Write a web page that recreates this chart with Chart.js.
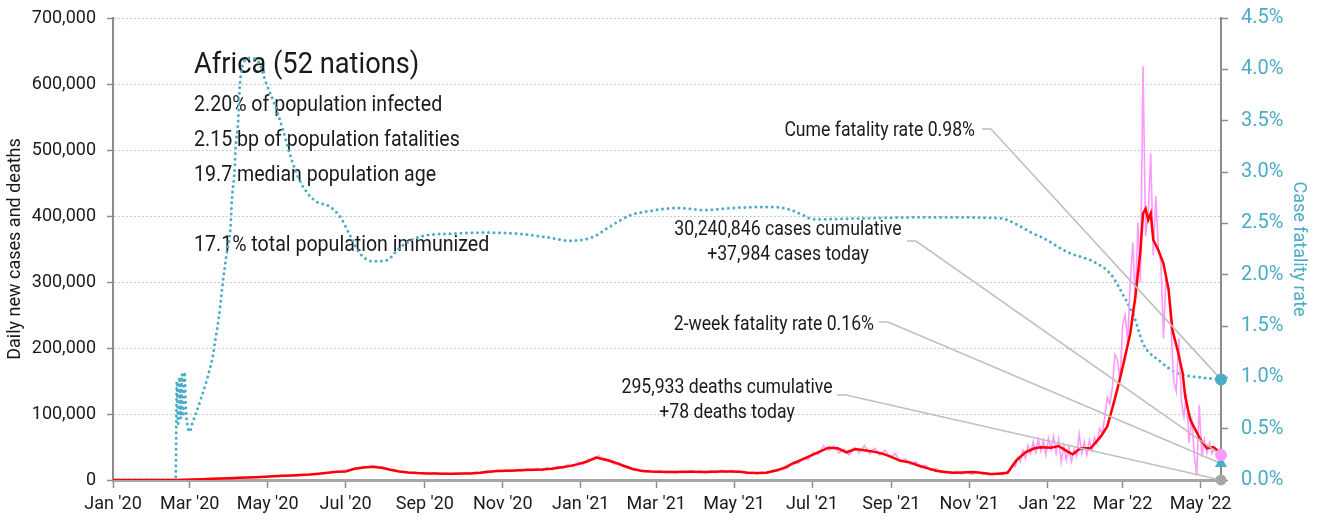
<!DOCTYPE html>
<html>
<head>
<meta charset="utf-8">
<script src="https://cdn.jsdelivr.net/npm/chart.js@4.4.1/dist/chart.umd.min.js"></script>
<style>
  html, body { margin: 0; padding: 0; background: #fff; }
  #wrap { width: 1320px; height: 520px; }
</style>
</head>
<body>
<div id="wrap"><canvas id="chart"></canvas></div>
<script>
'use strict';

// ── Data ─────────────────────────────────────────────────────────────
// x values are day numbers counted from 1 Jan 2020
const tickDays   = [0, 60, 121, 182, 244, 305, 366, 425, 486, 547, 609, 670, 731, 790, 851];
const tickLabels = ["Jan '20", "Mar '20", "May '20", "Jul '20", "Sep '20", "Nov '20",
                    "Jan '21", "Mar '21", "May '21", "Jul '21", "Sep '21", "Nov '21",
                    "Jan '22", "Mar '22", "May '22"];
const lastDay = 867;

// daily new cases, thousands — one value every 4 days from day 0 to day 700
const earlyStart = 0, earlyStep = 4;
const dailyCasesEarly = [
  0, 0, 0, 0, 0, 0, 0, 0, 0, 0,
  0, 0, 0, 0.4, 0.2, 0.9, 0.6, 1.4, 1.0, 2.0,
  1.6, 2.6, 2.0, 3.2, 2.6, 3.8, 3.0, 4.5, 3.6, 5.2,
  4.2, 6.0, 5.0, 7.0, 5.8, 7.8, 6.5, 8.5, 7.2, 9.2,
  8.4, 11.0, 10.0, 13.2, 11.5, 14.5, 14.0, 17.5, 17.0, 20.5,
  19.0, 21.5, 19.5, 19.5, 15.5, 16.0, 12.5, 13.0, 10.5, 11.5,
  9.8, 11.2, 9.2, 10.8, 8.8, 10.5, 8.6, 10.6, 8.9, 11.0,
  9.3, 12.0, 10.0, 13.8, 11.5, 14.8, 12.5, 15.5, 13.0, 16.0,
  13.5, 16.8, 14.0, 17.5, 14.5, 18.8, 15.5, 21.0, 17.5, 23.5,
  20.0, 27.0, 23.5, 32.0, 31.0, 37.0, 29.0, 31.5, 24.0, 25.5,
  19.0, 19.5, 14.5, 15.5, 12.0, 14.5, 11.5, 14.0, 11.0, 13.5,
  10.8, 14.0, 11.0, 14.5, 11.0, 13.8, 10.5, 14.2, 11.2, 15.0,
  11.5, 14.5, 11.0, 13.5, 9.5, 12.5, 9.0, 12.5, 10.0, 15.0,
  13.0, 19.5, 18.0, 27.0, 25.0, 33.0, 31.0, 42.0, 39.0, 52.0,
  45.0, 51.0, 41.0, 47.0, 38.0, 49.0, 41.0, 52.0, 40.0, 48.0,
  37.5, 45.0, 34.0, 40.0, 28.5, 32.0, 23.5, 27.5, 19.5, 22.5,
  14.5, 17.5, 11.0, 14.0, 9.5, 13.0, 9.0, 12.5, 8.5, 12.5,
  8.8, 11.0, 7.5, 11.5, 8.0, 13.0
];

// daily new cases, thousands — one value every 2 days from day 702 to day 866
const lateStart = 702, lateStep = 2;
const dailyCasesLate = [
  16, 24, 20, 34, 28, 45, 33, 52, 40, 58,
  42, 62, 44, 60, 38, 63, 46, 66, 40, 62,
  27, 52, 30, 50, 28, 46, 36, 70, 40, 58,
  38, 60, 45, 65, 55, 78, 70, 95, 125, 115,
  140, 190, 182, 150, 235, 250, 210, 300, 360, 268,
  390, 300, 627, 370, 400, 495, 340, 430, 350, 330,
  215, 308, 295, 225, 150, 134, 215, 120, 96, 130,
  56, 96, 41, 7, 114, 35, 61, 41, 56, 40,
  47, 42, 41
];

// 7-day average of new cases, thousands
const avgDays = [
  0, 49, 56, 63, 70, 77, 84, 91, 98, 105, 112, 119, 126, 133, 140, 147, 154, 161, 168, 175,
  182, 189, 196, 203, 210, 217, 224, 231, 238, 245, 252, 259, 266, 273, 280, 287, 294, 301, 308, 315,
  322, 329, 336, 343, 350, 357, 364, 371, 378, 385, 392, 399, 406, 413, 420, 427, 434, 441, 448, 455,
  462, 469, 476, 483, 490, 497, 504, 511, 518, 525, 532, 539, 546, 553, 560, 567, 574, 581, 588, 595,
  602, 609, 616, 623, 630, 637, 644, 651, 658, 665, 672, 679, 686, 693, 700, 707, 714, 721, 726, 734,
  740, 747, 751, 757, 765, 773, 778, 783, 787, 791, 796, 800, 804, 806, 808, 810, 811, 812, 814, 818,
  822, 826, 829, 833, 837, 839, 843, 847, 851, 856, 861, 864, 867
];
const avgCases = [
  0, 0, 0.3, 0.8, 1.2, 1.8, 2.3, 2.8, 3.3, 3.8, 4.2, 4.8, 5.5, 6.3, 7.0, 7.5, 8.2, 9.5, 11, 12.5,
  13, 17, 19, 20, 18.5, 15.5, 13, 11.5, 10.5, 10, 10, 9.5, 9.5, 9.8, 10, 11, 12.5, 13.5, 14, 14.5,
  15, 15.5, 16, 17, 19, 21, 24, 28, 34, 31, 27, 22, 17, 14, 13, 12.5, 12, 12, 12.5, 12.5,
  12, 12.5, 13, 13, 12.5, 11, 10.5, 11, 14, 18, 25, 31, 37, 43, 49, 48, 42, 47, 45, 43,
  40, 35, 29, 27, 22, 18, 14, 12, 11, 11.5, 12, 11, 9, 9.5, 11, 30, 42, 48, 49.5, 49,
  51.5, 43, 39, 48, 48, 66, 81, 116, 146, 179, 222, 278, 348, 404, 411, 394, 399, 404, 364, 348,
  328, 288, 227, 197, 162, 126, 91, 76, 61, 48, 50, 45, 43
];

// cumulative case fatality rate, percent
const cfrDays = [
  0, 49, 50, 51, 52, 53, 54, 55, 56, 57, 58, 60, 62, 65, 69, 74, 78, 80, 83, 86,
  89, 92, 93, 95, 96, 98, 99, 102, 107, 114, 120, 127, 133, 139, 146, 157, 170, 178, 186, 193,
  204, 214, 225, 240, 266, 290, 316, 342, 358, 376, 389, 405, 420, 442, 462, 485, 512, 528, 540, 548,
  590, 642, 694, 710, 720, 726, 747, 770, 781, 791, 799, 806, 820, 833, 851, 867
];
const cfrPct = [
  0, 0, 0.96, 0.55, 1.0, 0.6, 1.03, 0.62, 1.05, 0.7, 0.55, 0.47, 0.55, 0.65, 0.8, 1.0, 1.2, 1.36, 1.6, 1.93,
  2.21, 2.47, 2.73, 2.99, 3.25, 3.51, 3.8, 4.06, 4.11, 4.07, 3.86, 3.64, 3.41, 3.15, 2.92, 2.73, 2.66, 2.56, 2.37, 2.21,
  2.13, 2.14, 2.27, 2.37, 2.40, 2.41, 2.40, 2.36, 2.33, 2.37, 2.47, 2.58, 2.62, 2.65, 2.63, 2.65, 2.66, 2.64, 2.58, 2.54,
  2.55, 2.56, 2.55, 2.47, 2.40, 2.37, 2.22, 2.11, 2.0, 1.79, 1.59, 1.33, 1.15, 1.04, 1.0, 0.98
];

// latest figures
const totalCases      = 30240846;
const casesToday      = 37984;
const totalDeaths     = 295933;
const deathsToday     = 78;
const cumeFatality    = 0.98;
const twoWeekFatality = 0.16;

const regionTitle = 'Africa (52 nations)';
const regionFacts = [
  '2.20% of population infected',
  '2.15 bp of population fatalities',
  '19.7 median population age',
  '',
  '17.1% total population immunized',
];

// ── Styling ──────────────────────────────────────────────────────────
const FONT  = "Roboto, 'Liberation Sans', sans-serif";
const INK   = '#1a1a1a';
const TEAL  = '#4bacc6';
const PINK  = '#ff99ff';
const RED   = '#ff0000';
const GREY  = '#a6a6a6';
const LEAD  = '#bfbfbf';
const AXIS  = '#8c8c8c';

const fmtInt = v => Math.round(v).toLocaleString('en-US');

// ── Series built from the arrays above ───────────────────────────────
const dailyPoints = [
  ...dailyCasesEarly.map((v, i) => ({ x: earlyStart + i * earlyStep, y: v * 1000 })),
  ...dailyCasesLate.map((v, i) => ({ x: lateStart + i * lateStep, y: v * 1000 })),
  { x: lastDay, y: casesToday },
];
const avgPoints = avgDays.map((d, i) => ({ x: d, y: avgCases[i] * 1000 }));
const cfrPoints = cfrDays.map((d, i) => ({ x: d, y: cfrPct[i] }));

// ── Text and leader lines ────────────────────────────────────────────
// text anchors are canvas positions; leaders run to the end markers
const callouts = [
  { lines: [`Cume fatality rate ${cumeFatality.toFixed(2)}%`], x: 975, y: 131, align: 'right',
    lead: [982, 129], marker: 0 },
  { lines: [`${fmtInt(totalCases)} cases cumulative`, `+${fmtInt(casesToday)} cases today`],
    x: 788, y: 230, align: 'center', lead: [907, 241], marker: 1 },
  { lines: [`2-week fatality rate ${twoWeekFatality.toFixed(2)}%`], x: 874, y: 325, align: 'right',
    lead: [879, 322], marker: 2 },
  { lines: [`${fmtInt(totalDeaths)} deaths cumulative`, `+${deathsToday} deaths today`],
    x: 727, y: 388, align: 'center', lead: [837, 395], marker: 3 },
];

// narrow text: the face is drawn squeezed horizontally
function narrowText(ctx, text, x, y, align, size, squeeze) {
  ctx.save();
  ctx.font = `${size}px ${FONT}`;
  ctx.textAlign = align;
  ctx.textBaseline = 'middle';
  ctx.translate(x, y);
  ctx.scale(squeeze, 1);
  ctx.fillText(text, 0, 0);
  ctx.restore();
}

function markerPixel(chart, idx) {
  const pt = chart.getDatasetMeta(idx).data[0];
  return [pt.x, pt.y];
}

const textPlugin = {
  id: 'textPlugin',
  beforeDatasetsDraw(chart) {
    const ctx = chart.ctx;
    ctx.save();
    ctx.fillStyle = INK;
    narrowText(ctx, regionTitle, 194, 66, 'left', 29, 0.94);
    regionFacts.forEach((t, i) => narrowText(ctx, t, 194, 105 + i * 35, 'left', 22, 0.89));
    for (const c of callouts) {
      c.lines.forEach((t, i) => narrowText(ctx, t, c.x, c.y + i * 25, c.align, 21, 0.84));
    }
    ctx.restore();
  },
  afterDatasetDraw(chart, args) {
    if (args.index !== 4) return;   // after the average line, before the end markers
    const ctx = chart.ctx;
    ctx.save();
    ctx.strokeStyle = LEAD;
    ctx.lineWidth = 1.6;
    for (const c of callouts) {
      const [mx, my] = markerPixel(chart, c.marker);
      const [lx, ly] = c.lead;
      ctx.beginPath();
      ctx.moveTo(lx, ly);
      ctx.lineTo(lx + 9, ly);
      ctx.lineTo(mx, my);
      ctx.stroke();
    }
    ctx.restore();
  },
};

// fixed axis sizes; label overhang must not push the plot area in
const fixWidth = w => s => { s.width = w; s.paddingTop = 0; s.paddingBottom = 0; };

// ── Chart ────────────────────────────────────────────────────────────
const endMarker = (y, axis, color, style, radius) => ({
  data: [{ x: lastDay, y }],
  yAxisID: axis,
  showLine: false,
  pointStyle: style,
  pointRadius: radius,
  pointBackgroundColor: color,
  pointBorderWidth: 0,
  clip: false,
});

new Chart(document.getElementById('chart'), {
  type: 'line',
  data: {
    datasets: [
      endMarker(cumeFatality, 'y2', TEAL, 'circle', 6),
      endMarker(casesToday, 'y', PINK, 'circle', 6),
      endMarker(twoWeekFatality, 'y2', TEAL, 'triangle', 7),
      endMarker(deathsToday, 'y', GREY, 'circle', 5.5),
      {
        label: '7-day average',
        data: avgPoints,
        borderColor: RED,
        borderWidth: 2.5,
        pointRadius: 0,
        tension: 0,
        yAxisID: 'y',
      },
      {
        label: 'Daily new cases',
        data: dailyPoints,
        borderColor: PINK,
        borderWidth: 1.6,
        pointRadius: 0,
        tension: 0,
        yAxisID: 'y',
      },
      {
        label: 'Case fatality rate',
        data: cfrPoints,
        borderColor: TEAL,
        borderWidth: 3,
        borderDash: [0, 5.5],
        borderCapStyle: 'round',
        pointRadius: 0,
        cubicInterpolationMode: 'monotone',
        yAxisID: 'y2',
      },
    ],
  },
  options: {
    responsive: true,
    maintainAspectRatio: false,
    animation: false,
    events: [],
    layout: { padding: { top: 18, right: 0, bottom: 0, left: 0 } },
    plugins: {
      legend: { display: false },
      tooltip: { enabled: false },
    },
    scales: {
      x: {
        type: 'linear',
        min: 0,
        max: lastDay,
        afterBuildTicks: s => { s.ticks = tickDays.map(v => ({ value: v })); },
        afterFit: s => { s.height = 40; },
        ticks: {
          autoSkip: false,
          maxRotation: 0,
          padding: 6,
          color: INK,
          font: { family: FONT, size: 18 },
          callback: v => tickLabels[tickDays.indexOf(v)],
        },
        grid: { drawOnChartArea: false, tickLength: 8, tickColor: AXIS, tickWidth: 1.5, z: -1 },
        border: { color: GREY, width: 3 },
      },
      y: {
        position: 'left',
        min: 0,
        max: 700000,
        afterFit: fixWidth(113),
        ticks: {
          stepSize: 100000,
          padding: 11,
          color: INK,
          font: { family: FONT, size: 18 },
          callback: v => fmtInt(v),
        },
        grid: { color: '#b8b8b8', lineWidth: 1, tickColor: AXIS, tickLength: 6, tickWidth: 1.5, z: -1 },
        border: { color: AXIS, width: 2, dash: [1.5, 2.5] },
        title: {
          display: true,
          text: 'Daily new cases and deaths',
          color: INK,
          font: { family: FONT, size: 18 },
          padding: { top: 5, bottom: 0 },
        },
      },
      y2: {
        position: 'right',
        min: 0,
        max: 4.5,
        afterFit: fixWidth(99),
        ticks: {
          stepSize: 0.5,
          padding: 13,
          color: TEAL,
          font: { family: FONT, size: 20 },
          callback: v => `${v.toFixed(1)}%`,
        },
        grid: { drawOnChartArea: false, tickColor: AXIS, tickLength: 7, tickWidth: 1.5, z: -1 },
        border: { color: AXIS, width: 2 },
        title: {
          display: true,
          text: 'Case fatality rate',
          color: TEAL,
          font: { family: FONT, size: 18 },
          padding: { top: 11, bottom: 0 },
        },
      },
    },
  },
  plugins: [textPlugin],
});
</script>
</body>
</html>
